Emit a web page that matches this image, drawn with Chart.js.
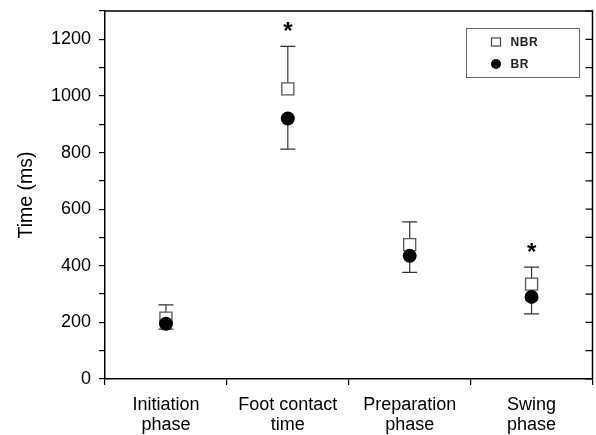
<!DOCTYPE html>
<html>
<head>
<meta charset="utf-8">
<script src="https://cdn.jsdelivr.net/npm/chart.js@4"></script>
<style>
  html,body{margin:0;padding:0;background:#fff;}
  #wrap{width:596px;height:435px;position:relative;}
</style>
</head>
<body>
<div id="wrap"><canvas id="chart"></canvas></div>
<script>
// values (ms)
const categories = [['Initiation','phase'], ['Foot contact','time'], ['Preparation','phase'], ['Swing','phase']];
const nbrMean = [215, 1025, 475, 335];
const nbrErr  = [47, 150, 80, 60];   // drawn upwards only
const brMean  = [195, 920, 435, 290];
const brErr   = [19, 108, 58, 60];   // drawn downwards only
const sigMarks = ['', '*', '', '*'];
const yTicks = [0, 200, 400, 600, 800, 1000, 1200];

const FONT = "'Liberation Sans', Arial, sans-serif";
const INK = '#000';

// error bars behind the markers
const errorBars = {
  id:'errorBars',
  beforeDatasetsDraw(chart){
    const {ctx, scales:{x, y}} = chart;
    ctx.save();
    ctx.strokeStyle = '#333';
    ctx.lineWidth = 1.2;
    const cap = 7.5;
    categories.forEach((c,i)=>{
      const px = x.getPixelForValue(i);
      const top = y.getPixelForValue(nbrMean[i] + nbrErr[i]);
      const bot = y.getPixelForValue(brMean[i] - brErr[i]);
      ctx.beginPath();
      ctx.moveTo(px, y.getPixelForValue(nbrMean[i])); ctx.lineTo(px, top);
      ctx.moveTo(px - cap, top); ctx.lineTo(px + cap, top);
      ctx.moveTo(px, y.getPixelForValue(brMean[i])); ctx.lineTo(px, bot);
      ctx.moveTo(px - cap, bot); ctx.lineTo(px + cap, bot);
      ctx.stroke();
    });
    ctx.restore();
  },
  afterDatasetsDraw(chart){
    const {ctx, scales:{x, y}} = chart;
    ctx.save();
    ctx.fillStyle = INK;
    ctx.font = 'bold 24px ' + FONT;
    ctx.textAlign = 'center';
    ctx.textBaseline = 'alphabetic';
    sigMarks.forEach((m,i)=>{
      if(!m) return;
      const top = y.getPixelForValue(nbrMean[i] + nbrErr[i]);
      ctx.fillText(m, x.getPixelForValue(i), top - 7);
    });
    ctx.restore();
  }
};

// closed frame + inward ticks on the right side + boxed legend
const frame = {
  id:'frame',
  afterDraw(chart){
    const {ctx, chartArea:a, scales:{y}} = chart;
    ctx.save();
    ctx.strokeStyle = INK;
    ctx.lineWidth = 1.5;
    ctx.beginPath();
    ctx.moveTo(a.left, a.top); ctx.lineTo(a.right, a.top); ctx.lineTo(a.right, a.bottom);
    ctx.stroke();
    ctx.lineWidth = 1.2;
    ctx.beginPath();
    y.ticks.forEach(t=>{
      const py = y.getPixelForValue(t.value);
      ctx.moveTo(a.right - 7, py); ctx.lineTo(a.right, py);
    });
    ctx.stroke();

    // legend
    const lx = a.right - 126, ly = a.top + 17.5, lw = 113, lh = 49;
    ctx.strokeStyle = '#666';
    ctx.lineWidth = 1;
    ctx.strokeRect(lx, ly, lw, lh);
    const ds = chart.data.datasets;
    ctx.font = 'bold 12px ' + FONT;
    ctx.letterSpacing = '0.6px';
    ctx.textBaseline = 'middle';
    ctx.textAlign = 'left';
    ds.forEach((d,i)=>{
      const cy = ly + 13.5 + i*22;
      const cx = lx + 29.5;
      if(d.pointStyle === 'rect'){
        ctx.fillStyle = '#fff';
        ctx.strokeStyle = '#444';
        ctx.lineWidth = 1.2;
        ctx.fillRect(cx-4.5, cy-4, 9, 8);
        ctx.strokeRect(cx-4.5, cy-4, 9, 8);
      } else {
        ctx.fillStyle = '#000';
        ctx.beginPath(); ctx.arc(cx, cy, 5, 0, Math.PI*2); ctx.fill();
      }
      ctx.fillStyle = '#222';
      ctx.fillText(d.label, lx + 44, cy + 0.5);
    });
    ctx.restore();
  }
};

function noPad(s){ s.paddingTop = 0; s.paddingBottom = 0; s.paddingLeft = 0; s.paddingRight = 0; }

new Chart(document.getElementById('chart'), {
  type:'line',
  data:{
    labels: categories,
    datasets:[
      { label:'NBR', data:nbrMean, showLine:false, pointStyle:'rect', pointRadius:8.5,
        pointBackgroundColor:'#fff', pointBorderColor:'#555', pointBorderWidth:1.3, order:2 },
      { label:'BR', data:brMean, showLine:false, pointStyle:'circle', pointRadius:7,
        pointBackgroundColor:'#000', pointBorderColor:'#000', pointBorderWidth:0, order:1 }
    ]
  },
  options:{
    responsive:true,
    maintainAspectRatio:false,
    animation:false,
    events:[],
    layout:{ autoPadding:false, padding:{ top:11, right:3.5, left:0, bottom:0 } },
    plugins:{ legend:{display:false}, tooltip:{enabled:false} },
    scales:{
      x:{
        offset:true,
        grid:{ display:true, offset:true, drawOnChartArea:false, tickLength:6, color:INK, lineWidth:1.2 },
        border:{ color:INK, width:1.5 },
        ticks:{ color:INK, font:{ family:FONT, size:18, lineHeight:1.1 }, padding:10, maxRotation:0, autoSkip:false },
        afterFit(s){ s.height = 56; noPad(s); }
      },
      y:{
        min:0, max:1300,
        grid:{ drawOnChartArea:false, tickLength:6, color:INK, lineWidth:1.2 },
        border:{ color:INK, width:1.5 },
        ticks:{ stepSize:100, autoSkip:false, color:INK, padding:8,
          font:{ family:FONT, size:18 },
          callback:v => yTicks.includes(v) ? v : '' },
        title:{ display:true, text:'Time (ms)', color:INK, font:{ family:FONT, size:19.5 }, padding:{ top:15, bottom:0 } },
        afterFit(s){ s.width = 105; noPad(s); }
      }
    }
  },
  plugins:[errorBars, frame]
});
</script>
</body>
</html>
